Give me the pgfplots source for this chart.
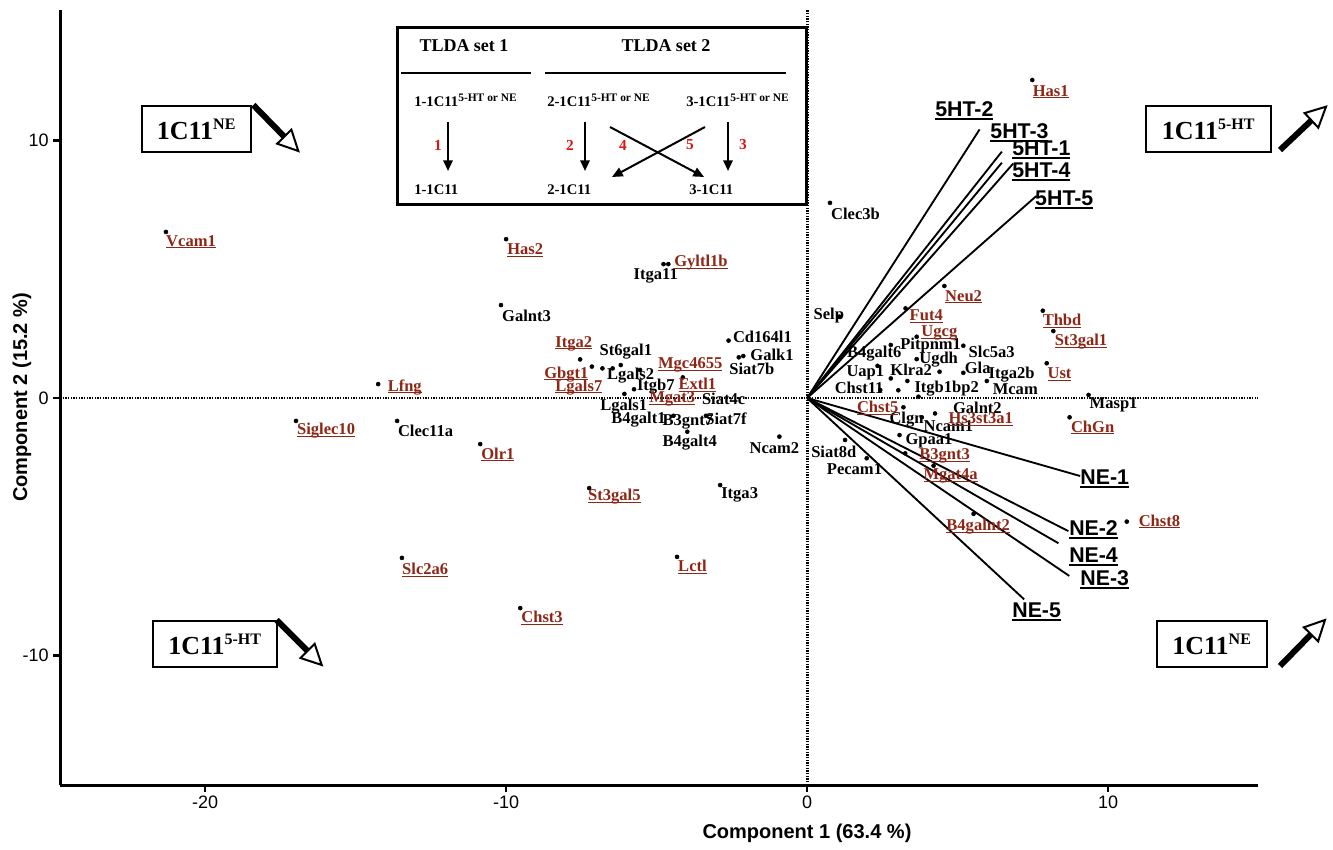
\documentclass[border=0pt]{standalone}
\usepackage{fontspec}
\setmainfont{Liberation Serif}
\newfontfamily\arialfont{Liberation Sans}
\usepackage{pgfplots}
\pgfplotsset{compat=1.18}
\usepackage{pgfplotstable}
\usetikzlibrary{arrows.meta}
\definecolor{labred}{RGB}{142,38,22}
\definecolor{numred}{RGB}{220,20,20}
\newcommand\ul[3]{\setbox0=\hbox{#1}\leavevmode\rlap{\rule[-#2]{\wd0}{#3}}\box0}

\pgfplotstableread{
x y
-21.30 6.45
-10.00 6.17
-10.17 3.61
-14.25 0.54
-16.98 -0.89
-13.62 -0.89
-10.86 -1.79
-7.24 -3.50
-2.89 -3.38
-13.46 -6.21
-4.32 -6.17
-9.53 -8.16
-4.77 5.20
-4.61 5.20
-2.61 2.23
-2.27 1.58
-2.12 1.63
-7.54 1.50
-7.15 1.22
-6.80 1.15
-6.46 1.15
-6.19 1.28
-5.55 1.09
-5.75 0.34
-6.07 0.16
-4.13 0.80
-4.44 -0.69
-3.36 -0.69
-3.98 -1.31
-0.92 -1.50
0.76 7.58
1.07 3.16
4.56 4.35
3.27 3.48
3.64 2.38
2.78 2.06
5.19 2.03
2.34 1.25
2.78 0.76
2.43 0.31
3.03 0.30
3.33 0.66
3.64 1.51
4.40 1.02
5.19 0.98
5.97 0.66
3.70 0.05
3.20 -0.36
4.25 -0.60
3.81 -0.75
3.07 -1.44
3.26 -2.15
1.26 -1.63
1.98 -2.34
7.83 3.39
8.18 2.60
7.96 1.35
9.35 0.12
8.72 -0.75
4.20 -2.63
5.53 -4.50
10.62 -4.80
7.48 12.35
}\genedots

\pgfplotstableread{
x y name
-10.14 3.20 Galnt3
-13.60 -1.28 Clec11a
-2.86 -3.77 Itga3
-5.77 4.74 Itga11
-2.47 2.38 Cd164l1
-1.89 1.67 Galk1
-2.59 1.13 Siat7b
-6.90 1.80 St6gal1
-6.65 0.89 Lgals2
-5.66 0.44 Itgb7
-3.50 -0.05 Siat4c
-6.88 -0.34 Lgals1
-6.51 -0.85 B4galt1
-4.81 -0.92 B3gnt7
-3.39 -0.82 Siat7f
-4.81 -1.74 B4galt4
-1.92 -1.95 Ncam2
0.79 7.17 Clec3b
0.21 3.22 Selp
1.32 1.71 B4galt6
3.09 2.03 Pitpnm1
5.36 1.80 Slc5a3
3.72 1.48 Ugdh
1.30 0.98 Uap1
2.76 1.09 Klra2
5.23 1.18 Gla
6.02 0.92 Itga2b
0.91 0.38 Chst11
3.56 0.35 Itgb1bp2
6.16 0.34 Mcam
9.38 -0.27 Masp1
4.84 -0.38 Galnt2
2.73 -0.85 Clgn
3.86 -1.11 Ncam1
3.26 -1.67 Gpaa1
0.13 -2.09 Siat8d
0.65 -2.76 Pecam1
}\blacklabels

\pgfplotstableread{
x y name
-21.30 6.07 Vcam1
-9.97 5.75 Has2
-13.94 0.42 Lfng
-16.95 -1.28 Siglec10
-10.83 -2.19 Olr1
-7.28 -3.84 St3gal5
-13.46 -6.68 Slc2a6
-4.29 -6.56 Lctl
-9.50 -8.54 Chst3
-4.42 5.25 Gyltl1b
-8.37 2.12 Itga2
-8.74 0.92 Gbgt1
-8.37 0.42 Lgals7
-4.96 1.28 Mgc4655
-4.28 0.50 Extl1
-5.25 -0.05 Mgat3
4.58 3.93 Neu2
3.40 3.18 Fut4
3.79 2.51 Ugcg
7.82 2.99 Thbd
8.22 2.19 St3gal1
7.98 0.92 Ust
1.65 -0.38 Chst5
4.69 -0.83 Hs3st3a1
8.76 -1.14 ChGn
3.72 -2.24 B3gnt3
3.86 -3.03 Mgat4a
4.62 -5.00 B4galnt2
11.01 -4.80 Chst8
7.49 11.90 Has1
}\redlabels

\pgfplotstableread{
x y name
4.25 11.15 5HT-2
6.08 10.29 5HT-3
6.81 9.63 5HT-1
6.81 8.78 5HT-4
7.57 7.69 5HT-5
9.07 -3.15 NE-1
8.70 -5.13 NE-2
8.70 -6.17 NE-4
9.07 -7.07 NE-3
6.81 -8.31 NE-5
}\veclabels

\begin{document}
\begin{tikzpicture}
\begin{axis}[
  scale only axis, width=898.5pt, height=581.25pt,
  xmin=-24.82, xmax=14.98, ymin=-15.03, ymax=15.07,
  axis x line*=bottom, axis y line*=left,
  x axis line style={-}, y axis line style={-},
  axis line style={line width=2.25pt},
  xtick={-20,-10,0,10}, ytick={-10,0,10},
  tick align=outside, major tick length=5pt,
  tick style={line width=2pt, black},
  /pgf/number format/assume math mode=true,
  ticklabel style={font=\arialfont\fontsize{13.5}{15}\selectfont},
  xlabel={Component 1 (63.4 \%)}, ylabel={Component 2 (15.2 \%)},
  label style={font=\arialfont\bfseries\fontsize{15}{17}\selectfont},
  xlabel style={at={(axis description cs:0.6235,-0.0619)}, anchor=center},
  ylabel style={at={(axis description cs:-0.0317,0.5)}, anchor=center},
  clip=false,
]
% zero lines
\addplot[black, line width=2.1pt, dash pattern=on 1.1pt off 0.9pt] coordinates {(0,-15.03) (0,15.07)};
\addplot[black, line width=2.1pt, dash pattern=on 1.1pt off 0.9pt] coordinates {(-24.82,0) (14.98,0)};
% loading vectors
\addplot[black, line width=1.4pt] coordinates {(0,0) (5.73,10.43)};
\addplot[black, line width=1.4pt] coordinates {(0,0) (6.47,9.57)};
\addplot[black, line width=1.4pt] coordinates {(0,0) (6.47,9.14)};
\addplot[black, line width=1.4pt] coordinates {(0,0) (6.85,9.11)};
\addplot[black, line width=1.4pt] coordinates {(0,0) (7.61,7.84)};
\addplot[black, line width=1.4pt] coordinates {(0,0) (9.07,-3.03)};
\addplot[black, line width=1.4pt] coordinates {(0,0) (8.68,-5.17)};
\addplot[black, line width=1.4pt] coordinates {(0,0) (8.35,-5.64)};
\addplot[black, line width=1.4pt] coordinates {(0,0) (8.71,-6.91)};
\addplot[black, line width=1.4pt] coordinates {(0,0) (7.21,-7.82)};
% gene dots
\addplot[only marks, mark=*, mark size=1.5pt, black] table[x=x,y=y] {\genedots};
% labels
\addplot[draw=none, mark=none, point meta=explicit symbolic,
  nodes near coords={\pgfplotspointmeta},
  every node near coord/.append style={anchor=west, inner sep=0pt, text=black,
    font=\bfseries\fontsize{12.4}{14}\selectfont}]
  table[x=x,y=y,meta=name] {\blacklabels};
\addplot[draw=none, mark=none, point meta=explicit symbolic,
  nodes near coords={\ul{\pgfplotspointmeta}{1.6pt}{0.7pt}},
  every node near coord/.append style={anchor=west, inner sep=0pt, text=labred,
    font=\bfseries\fontsize{12.4}{14}\selectfont}]
  table[x=x,y=y,meta=name] {\redlabels};
\addplot[draw=none, mark=none, point meta=explicit symbolic,
  nodes near coords={\ul{\pgfplotspointmeta}{2.4pt}{1.3pt}},
  every node near coord/.append style={anchor=west, inner sep=0pt, text=black,
    font=\arialfont\bfseries\fontsize{16}{18}\selectfont}]
  table[x=x,y=y,meta=name] {\veclabels};
\end{axis}

\begin{scope}[x=0.75pt, y=-0.75pt, shift={(-45pt,588.75pt)}]
% TLDA inset
\draw[line width=2.25pt, fill=white] (397,28) rectangle (806,205);
\node[font=\bfseries\fontsize{13.5}{15}\selectfont] at (464,46) {TLDA set 1};
\node[font=\bfseries\fontsize{13.5}{15}\selectfont] at (666,46) {TLDA set 2};
\draw[line width=1.5pt] (401,73) -- (531,73);
\draw[line width=1.5pt] (545,73) -- (786,73);
\node[anchor=west, inner sep=0pt, font=\bfseries\fontsize{11}{12}\selectfont] at (414,100) {1-1C11\textsuperscript{\fontsize{8.6}{9}\selectfont 5-HT or NE}};
\node[anchor=west, inner sep=0pt, font=\bfseries\fontsize{11}{12}\selectfont] at (547,100) {2-1C11\textsuperscript{\fontsize{8.6}{9}\selectfont 5-HT or NE}};
\node[anchor=west, inner sep=0pt, font=\bfseries\fontsize{11}{12}\selectfont] at (686,100) {3-1C11\textsuperscript{\fontsize{8.6}{9}\selectfont 5-HT or NE}};
\draw[line width=1.5pt, -{Triangle[length=8pt, width=7pt]}] (448,122) -- (448,171);
\draw[line width=1.5pt, -{Triangle[length=8pt, width=7pt]}] (585,122) -- (585,171);
\draw[line width=1.5pt, -{Triangle[length=8pt, width=7pt]}] (728,122) -- (728,171);
\draw[line width=1.5pt, -{Triangle[length=8pt, width=7pt]}] (610,127) -- (704,177);
\draw[line width=1.5pt, -{Triangle[length=8pt, width=7pt]}] (705,127) -- (612,177);
\node[text=numred, font=\bfseries\fontsize{11.5}{13}\selectfont] at (438,145) {1};
\node[text=numred, font=\bfseries\fontsize{11.5}{13}\selectfont] at (570,145) {2};
\node[text=numred, font=\bfseries\fontsize{11.5}{13}\selectfont] at (623,145) {4};
\node[text=numred, font=\bfseries\fontsize{11.5}{13}\selectfont] at (690,145) {5};
\node[text=numred, font=\bfseries\fontsize{11.5}{13}\selectfont] at (743,145) {3};
\node[anchor=west, inner sep=0pt, font=\bfseries\fontsize{11}{12}\selectfont] at (414,190) {1-1C11};
\node[anchor=west, inner sep=0pt, font=\bfseries\fontsize{11}{12}\selectfont] at (547,190) {2-1C11};
\node[anchor=west, inner sep=0pt, font=\bfseries\fontsize{11}{12}\selectfont] at (689,190) {3-1C11};
% corner boxes
\draw[line width=1.1pt] (142,106) rectangle (251,152);
\node[font=\bfseries\fontsize{19.5}{22}\selectfont] at (196.5,129) {1C11\textsuperscript{\fontsize{12}{14}\selectfont NE}};
\draw[line width=1.1pt] (1146,106) rectangle (1271,152);
\node[font=\bfseries\fontsize{19.5}{22}\selectfont] at (1208.5,129) {1C11\textsuperscript{\fontsize{12}{14}\selectfont 5-HT}};
\draw[line width=1.1pt] (153,621) rectangle (277,667);
\node[font=\bfseries\fontsize{19.5}{22}\selectfont] at (215,644) {1C11\textsuperscript{\fontsize{12}{14}\selectfont 5-HT}};
\draw[line width=1.1pt] (1157,621) rectangle (1267,667);
\node[font=\bfseries\fontsize{19.5}{22}\selectfont] at (1212,644) {1C11\textsuperscript{\fontsize{12}{14}\selectfont NE}};
% corner arrows
\draw[line width=4.5pt] (253.3,105) -- (284.3,136.7);
\draw[line width=1.5pt, fill=white, line join=miter] (298.3,151) -- (277.2,143.7) -- (291.4,129.7) -- cycle;
\draw[line width=4.5pt] (1280,150) -- (1311.4,120.4);
\draw[line width=1.5pt, fill=white, line join=miter] (1326,106.7) -- (1318.3,127.7) -- (1304.6,113.1) -- cycle;
\draw[line width=4.5pt] (276.7,620) -- (307.6,650.9);
\draw[line width=1.5pt, fill=white, line join=miter] (321.7,665) -- (300.5,658.0) -- (314.7,643.8) -- cycle;
\draw[line width=4.5pt] (1280,666) -- (1311,634.3);
\draw[line width=1.5pt, fill=white, line join=miter] (1325,620) -- (1318.1,641.3) -- (1303.9,627.3) -- cycle;
\end{scope}
\pgfresetboundingbox
\path[x=0.75pt, y=-0.75pt, shift={(-45pt,588.75pt)}] (0,0) rectangle (1333,849);
\end{tikzpicture}
\end{document}
